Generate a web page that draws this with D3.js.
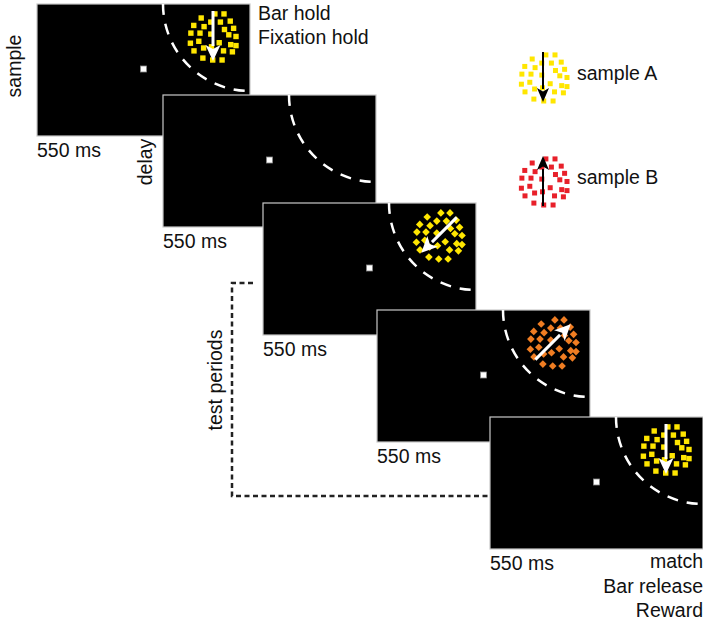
<!DOCTYPE html>
<html>
<head>
<meta charset="utf-8">
<script src="https://cdn.jsdelivr.net/npm/d3@7/dist/d3.min.js"></script>
<style>
  html, body { margin: 0; padding: 0; background: #fff; }
  svg { display: block; }
  text { font-family: "Liberation Sans", Arial, Helvetica, sans-serif; fill: #111; }
</style>
</head>
<body>
<svg id="chart" width="703" height="623"></svg>
<script>
// ---------------- data ----------------
const periods      = ["sample", "delay", "test 1", "test 2", "test 3"];
const durationsMs  = [550, 550, 550, 550, 550];
const stimColors   = ["#ffe600", null, "#ffe600", "#f07d22", "#ffe600"];
const stimShapes   = ["square", null, "diamond", "diamond", "square"];
const motionDeg    = [270, null, 225, 45, 270];   // direction of motion (deg, counter-clockwise, 0 = right)
const sideLabels   = ["sample", "delay"];
const groupLabel   = "test periods";
const startTexts   = ["Bar hold", "Fixation hold"];
const endTexts     = ["match", "Bar release", "Reward"];
const legendNames  = ["sample A", "sample B"];
const legendColors = ["#ffe600", "#e8202a"];
const legendDeg    = [270, 90];
// random-dot pattern (unit disc coordinates)
const dotPattern = [
  [-0.45,-0.75],[-0.05,-0.58],[0.35,-0.58],[0.76,-0.62],[0.12,-0.92],[0.50,-0.92],
  [-0.76,-0.44],[-0.33,-0.39],[0.52,-0.27],[0.90,-0.32],
  [-0.88,-0.12],[-0.50,-0.12],[-0.05,-0.08],[0.70,-0.05],[1.00,0.02],
  [-0.90,0.30],[-0.55,0.22],[0.30,0.28],[0.78,0.36],[1.00,0.40],
  [-0.75,0.62],[-0.35,0.50],[0.48,0.62],[0.85,0.66],
  [-0.38,0.92],[0.03,1.00],[0.42,1.00],[-0.02,0.45]
];

// ---------------- layout ----------------
const svg = d3.select("#chart");
const W = 213, H = 132;
const FS = 19.5;
const xPanel = d3.scaleOrdinal().domain(periods).range([37, 163, 263, 377, 490]);
const yPanel = d3.scaleOrdinal().domain(periods).range([4, 95, 203, 310, 417]);
const stim = { cx: 175, cy: 32, r: 24, dot: 5.4 };
const fix = { x: 106.5, y: 65, s: 6 };
const arcR = 87;
const dotScale = d3.scaleLinear().domain([-1, 1]).range([-stim.r, stim.r]);

function drawDots(g, cx, cy, color, shape, size, r) {
  const s = d3.scaleLinear().domain([-1, 1]).range([-r, r]);
  g.selectAll("rect.dot").data(dotPattern).join("rect")
    .attr("class", "dot")
    .attr("x", -size / 2).attr("y", -size / 2)
    .attr("width", size).attr("height", size)
    .attr("fill", color)
    .attr("transform", d => `translate(${cx + s(d[0])},${cy + s(d[1])})` + (shape === "diamond" ? " rotate(45)" : ""));
}

function drawArrow(g, cx, cy, deg, len, color, lw, headL, headW) {
  const a = deg * Math.PI / 180;
  const ux = Math.cos(a), uy = -Math.sin(a);
  const x0 = cx - ux * len / 2, y0 = cy - uy * len / 2;
  const x1 = cx + ux * len / 2, y1 = cy + uy * len / 2;
  const bx = x1 - ux * headL, by = y1 - uy * headL;
  g.append("line")
    .attr("x1", x0).attr("y1", y0).attr("x2", bx + ux * 1).attr("y2", by + uy * 1)
    .attr("stroke", color).attr("stroke-width", lw);
  const px = -uy, py = ux;
  const p = d3.path();
  p.moveTo(x1, y1);
  p.lineTo(bx + px * headW / 2, by + py * headW / 2);
  p.lineTo(bx + ux * headL * 0.25, by + uy * headL * 0.25);
  p.lineTo(bx - px * headW / 2, by - py * headW / 2);
  p.closePath();
  g.append("path").attr("d", p.toString()).attr("fill", color);
}

// ---------------- panels ----------------
periods.forEach((name, i) => {
  const g = svg.append("g").attr("transform", `translate(${xPanel(name)},${yPanel(name)})`);
  g.append("rect").attr("x", 0).attr("y", 0).attr("width", W).attr("height", H)
    .attr("fill", "#000").attr("stroke", "#c8c8c8").attr("stroke-width", 1.2);
  // receptive-field boundary
  const p = d3.path();
  p.moveTo(W - arcR, 0);
  p.arc(W, 0, arcR, Math.PI, Math.PI / 2, true);
  g.append("path").attr("d", p.toString()).attr("fill", "none")
    .attr("stroke", "#fff").attr("stroke-width", 2.5).attr("stroke-dasharray", "11,9");
  // fixation point
  g.append("rect").attr("x", fix.x - fix.s / 2).attr("y", fix.y - fix.s / 2)
    .attr("width", fix.s).attr("height", fix.s)
    .attr("fill", "#fff").attr("stroke", "#888").attr("stroke-width", 0.8);
  // stimulus
  if (stimColors[i]) {
    drawDots(g, stim.cx, stim.cy, stimColors[i], stimShapes[i], stim.dot, stim.r);
    drawArrow(g, stim.cx + 1, stim.cy, motionDeg[i], 50, "#fff", 3, 16, 15);
  }
  // duration
  g.append("text").attr("x", 0).attr("y", H + 21)
    .attr("font-size", FS).text(durationsMs[i] + " ms");
});

// side labels
svg.append("text").attr("transform", "translate(21,66) rotate(-90)")
  .attr("text-anchor", "middle").attr("font-size", FS).text(sideLabels[0]);
svg.append("text").attr("transform", "translate(152,162) rotate(-90)")
  .attr("text-anchor", "middle").attr("font-size", FS).text(sideLabels[1]);
svg.append("text").attr("transform", "translate(222,380) rotate(-90)")
  .attr("text-anchor", "middle").attr("font-size", FS).text(groupLabel);

// test-period bracket
const br = d3.path();
br.moveTo(253, 283); br.lineTo(232, 283); br.lineTo(232, 496); br.lineTo(xPanel("test 3"), 496);
svg.append("path").attr("d", br.toString()).attr("fill", "none")
  .attr("stroke", "#222").attr("stroke-width", 2.5).attr("stroke-dasharray", "5,3.5");

// trial start / end texts
svg.selectAll("text.start").data(startTexts).join("text").attr("class", "start")
  .attr("x", 258).attr("y", (d, i) => 20 + i * 24).attr("font-size", FS).text(d => d);
svg.selectAll("text.end").data(endTexts).join("text").attr("class", "end")
  .attr("x", 703).attr("y", (d, i) => 568 + i * 24.5).attr("text-anchor", "end")
  .attr("font-size", FS).text(d => d);

// legend
const legY = d3.scaleOrdinal().domain(legendNames).range([77, 181]);
legendNames.forEach((n, i) => {
  const g = svg.append("g");
  drawDots(g, 543, legY(n), legendColors[i], "square", 5, 24);
  drawArrow(g, 543, legY(n), legendDeg[i], 50, "#000", 2, 14, 12);
  g.append("text").attr("x", 577).attr("y", legY(n) + 3)
    .attr("font-size", FS).text(n);
});
</script>
</body>
</html>
